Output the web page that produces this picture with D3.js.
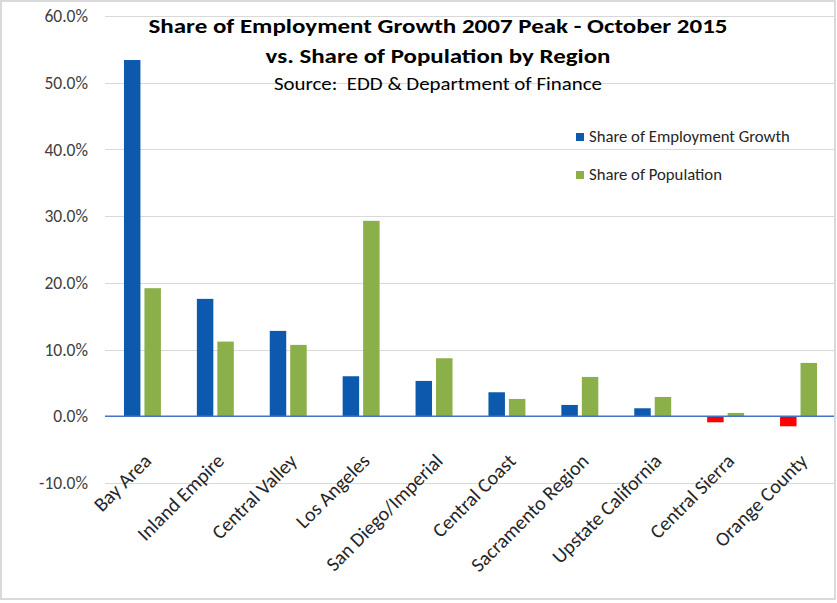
<!DOCTYPE html>
<html>
<head>
<meta charset="utf-8">
<script src="https://cdn.jsdelivr.net/npm/d3@7"></script>
<style>
  body { margin: 0; background: #fff; }
  svg { font-family: Carlito, Lato, "Open Sans", sans-serif; }
</style>
</head>
<body>
<svg id="chart" width="837" height="603"></svg>
<script>
// values (fractions)
var regions = ["Bay Area", "Inland Empire", "Central Valley", "Los Angeles", "San Diego/Imperial",
  "Central Coast", "Sacramento Region", "Upstate California", "Central Sierra", "Orange County"];
var employmentShare = [0.534, 0.176, 0.128, 0.060, 0.053, 0.036, 0.017, 0.012, -0.009, -0.015];
var populationShare = [0.192, 0.112, 0.107, 0.293, 0.087, 0.026, 0.059, 0.029, 0.005, 0.080];
var seriesNames = ["Share of Employment Growth", "Share of Population"];
var yTicks = [-0.1, 0, 0.1, 0.2, 0.3, 0.4, 0.5, 0.6];

drawChart();

function drawChart(){
  var svg = d3.select("#chart"),
  margin = {top: 16, right: 3, bottom: 120, left: 105},
  width = 837 - margin.left - margin.right,
  height = 603 - margin.top - margin.bottom;

  var colors = {pos: "#0C59AE", neg: "#FF0000", pop: "#8BB04A"};

  // chart border
  svg.append("rect")
    .attr("x", 1).attr("y", 1)
    .attr("width", 834).attr("height", 598)
    .attr("fill", "#fff")
    .attr("stroke", "#d9d9d9")
    .attr("stroke-width", 2);

  var g = svg.append("g").attr("transform", "translate(" + margin.left + "," + margin.top + ")");

  var x0 = d3.scaleBand()
    .domain(regions)
    .range([0, width])
    .padding(0);

  var x1 = d3.scaleBand()
    .domain(seriesNames)
    .range([x0.bandwidth() * 0.26, x0.bandwidth() * 0.767])
    .paddingInner(0.195);

  var y = d3.scaleLinear()
    .domain([-0.1, 0.6])
    .range([467, 0]);

  // gridlines
  g.append("g")
    .selectAll("line")
    .data(yTicks)
    .enter().append("line")
    .attr("x1", 0)
    .attr("x2", width)
    .attr("y1", function(d) { return Math.round(y(d)) + 0.5; })
    .attr("y2", function(d) { return Math.round(y(d)) + 0.5; })
    .attr("stroke", "#d9d9d9")
    .attr("stroke-width", 1);

  // y axis labels (Excel style hyphen for negatives)
  var pct = d3.format(".1%");
  var yAxis = g.append("g")
    .call(d3.axisLeft(y).tickValues(yTicks)
      .tickFormat(function(d) { return pct(d).replace("\u2212", "-"); })
      .tickSize(0).tickPadding(17));
  yAxis.select(".domain").remove();
  yAxis.selectAll("text")
    .attr("font-family", "Carlito, Lato, 'Open Sans', sans-serif")
    .attr("font-size", 17.5)
    .attr("fill", "#404040");

  // bars
  var rows = regions.map(function(r, i) {
    return {region: r, values: [
      {key: seriesNames[0], value: employmentShare[i]},
      {key: seriesNames[1], value: populationShare[i]}
    ]};
  });

  g.append("g")
    .selectAll("g")
    .data(rows)
    .enter().append("g")
    .attr("transform", function(d) { return "translate(" + x0(d.region) + ",0)"; })
    .selectAll("rect")
    .data(function(d) { return d.values; })
    .enter().append("rect")
    .attr("x", function(d) { return x1(d.key); })
    .attr("y", function(d) { return y(Math.max(0, d.value)); })
    .attr("width", x1.bandwidth())
    .attr("height", function(d) { return Math.abs(y(d.value) - y(0)); })
    .attr("fill", function(d) {
      if (d.key == seriesNames[1]) return colors.pop;
      return d.value < 0 ? colors.neg : colors.pos;
    });

  // zero axis line
  g.append("line")
    .attr("x1", 0).attr("x2", width)
    .attr("y1", y(0)).attr("y2", y(0))
    .attr("stroke", "#4472C4")
    .attr("stroke-width", 1.5);

  // rotated category labels
  g.append("g")
    .selectAll("text")
    .data(regions)
    .enter().append("text")
    .attr("transform", function(d) {
      return "translate(" + (x0(d) + x0.bandwidth() / 2 + 11) + "," + (y(0) + 46) + ") rotate(-45)";
    })
    .attr("text-anchor", "end")
    .attr("font-size", 20)
    .attr("fill", "#262626")
    .text(function(d) { return d; });

  // titles
  svg.append("text")
    .attr("x", 438).attr("y", 33)
    .attr("text-anchor", "middle")
    .attr("font-size", 21)
    .attr("font-weight", "bold")
    .attr("fill", "#000")
    .attr("textLength", 579)
    .attr("lengthAdjust", "spacingAndGlyphs")
    .text("Share of Employment Growth 2007 Peak - October 2015");

  svg.append("text")
    .attr("x", 438).attr("y", 63)
    .attr("text-anchor", "middle")
    .attr("font-size", 21)
    .attr("font-weight", "bold")
    .attr("fill", "#000")
    .attr("textLength", 345)
    .attr("lengthAdjust", "spacingAndGlyphs")
    .text("vs. Share of Population by Region");

  svg.append("text")
    .attr("x", 438).attr("y", 90)
    .attr("text-anchor", "middle")
    .attr("font-size", 17.5)
    .attr("fill", "#000")
    .attr("textLength", 328)
    .attr("lengthAdjust", "spacingAndGlyphs")
    .style("white-space", "pre")
    .text("Source:  EDD & Department of Finance");

  // legend
  var legend = svg.append("g")
    .selectAll("g")
    .data(seriesNames)
    .enter().append("g")
    .attr("transform", function(d, i) { return "translate(576," + (133 + i * 38) + ")"; });

  legend.append("rect")
    .attr("width", 8)
    .attr("height", 8)
    .attr("fill", function(d, i) { return i == 0 ? colors.pos : colors.pop; });

  legend.append("text")
    .attr("x", 13)
    .attr("y", 9)
    .attr("font-size", 16.7)
    .attr("fill", "#262626")
    .text(function(d) { return d; });
}
</script>
</body>
</html>
